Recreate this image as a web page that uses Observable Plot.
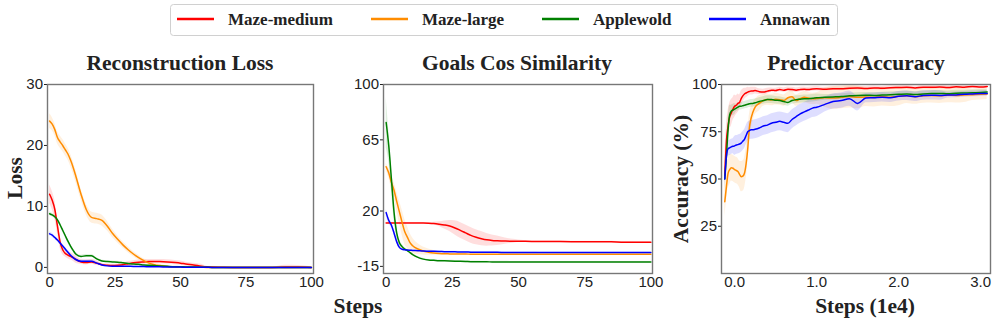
<!DOCTYPE html>
<html><head><meta charset="utf-8">
<script src="https://cdn.jsdelivr.net/npm/d3@7"></script>
<script src="https://cdn.jsdelivr.net/npm/@observablehq/plot@0.6"></script>
<style>
body{margin:0;background:#fff;}
#root{position:relative;width:996px;height:324px;overflow:hidden;background:#fff;}
.pl{position:absolute;top:74px;}
.pl svg{overflow:visible;}
#ov{position:absolute;left:0;top:0;pointer-events:none;}
</style></head><body><div id="root"></div>
<script>
const names = ["Maze-medium","Maze-large","Applewold","Annawan"];
const colors = ["#ff0000","#ff8c00","#008000","#0000ff"];

// Panel 1 & 2 x grid (steps)
const stepsX = [0,1,2,3,4,5,6,7,8,9,10,12,14,16,18,20,22,24,26,28,30,32,34,36,38,40,42,45,48,50,52,55,58,60,62,65,70,75,80,85,90,95,100];

// Reconstruction Loss
const reconMazeMedium = [12.0,11.0,9.5,6.8,4.2,2.9,2.3,2.0,1.8,1.6,1.3,0.9,0.8,0.9,0.7,0.45,0.35,0.3,0.35,0.45,0.6,0.75,0.85,0.9,0.95,0.95,0.95,0.9,0.8,0.7,0.55,0.4,0.2,0.1,0.05,0.02,0,0,0,0,0.05,0.05,0];
const reconMazeMediumSd = [1.5,1.5,1.5,1.2,1.0,0.8,0.6,0.6,0.6,0.6,0.6,0.4,0.4,0.4,0.4,0.2,0.2,0.2,0.2,0.2,0.35,0.35,0.35,0.35,0.35,0.35,0.35,0.35,0.35,0.35,0.3,0.3,0.3,0.1,0.05,0.05,0.05,0.05,0.05,0.05,0.3,0.25,0.1];
const reconMazeLarge = [24.0,23.5,22.6,21.3,20.6,20.0,19.3,18.6,17.6,16.4,15.0,12.0,9.5,8.2,8.0,7.7,6.8,5.6,4.6,3.7,2.9,2.2,1.6,1.1,0.7,0.45,0.3,0.15,0.08,0.05,0.03,0.02,0.01,0,0,0,0,0,0,0,0,0,0];
const reconMazeLargeSd = [1.2,1.1,1.0,1.0,1.0,1.0,1.0,1.0,1.0,1.0,1.0,0.9,0.9,0.9,0.9,0.9,0.8,0.7,0.6,0.5,0.5,0.4,0.4,0.3,0.3,0.2,0.2,0.1,0.1,0.1,0.1,0.05,0.05,0.05,0.05,0.05,0.05,0.05,0.05,0.05,0.05,0.05,0.05];
const reconApplewold = [8.8,8.6,8.3,7.8,7.0,6.1,5.2,4.3,3.5,2.8,2.2,1.8,1.9,1.9,1.4,1.05,0.95,0.9,0.85,0.75,0.65,0.55,0.5,0.4,0.35,0.3,0.25,0.18,0.12,0.1,0.08,0.05,0.03,0.02,0,0,0,0,0,0,0,0,0];
const reconApplewoldSd = [0.3,0.3,0.3,0.3,0.3,0.3,0.3,0.3,0.3,0.3,0.3,0.2,0.2,0.2,0.2,0.15,0.15,0.15,0.15,0.15,0.1,0.1,0.1,0.1,0.1,0.1,0.1,0.05,0.05,0.05,0.05,0.05,0.05,0.05,0.05,0.05,0.05,0.05,0.05,0.05,0.05,0.05,0.05];
const reconAnnawan = [5.5,5.3,4.9,4.5,4.0,3.5,3.0,2.5,2.0,1.6,1.3,1.0,1.0,1.0,0.7,0.4,0.25,0.2,0.2,0.2,0.18,0.16,0.15,0.13,0.12,0.1,0.09,0.07,0.06,0.05,0.04,0.03,0.02,0.01,0,0,0,0,0,0,0,0,0];
const reconAnnawanSd = [0.3,0.3,0.3,0.3,0.3,0.3,0.3,0.3,0.3,0.3,0.3,0.2,0.2,0.2,0.2,0.15,0.15,0.15,0.15,0.15,0.1,0.1,0.1,0.1,0.1,0.1,0.1,0.05,0.05,0.05,0.05,0.05,0.05,0.05,0.05,0.05,0.05,0.05,0.05,0.05,0.05,0.05,0.05];

// Goals Cos Similarity
const cosMazeMedium = [12.4,12.4,12.4,12.4,12.4,12.4,12.4,12.4,12.4,12.4,12.4,12.4,12.4,12.3,12.1,11.7,11.2,10.5,9.3,7.8,6.2,4.6,3.4,2.5,1.8,1.4,1.2,1.0,0.9,0.9,0.85,0.8,0.8,0.75,0.7,0.7,0.65,0.6,0.6,0.5,0.2,0.2,0.3];
const cosMazeMediumSd = [0.3,0.3,0.3,0.3,0.3,0.3,0.3,0.3,0.3,0.3,0.3,0.3,0.3,0.4,0.8,1.5,2.5,3.5,4.5,5,5,5,4.8,4.5,4,3.5,3,2,1.2,0.8,0.5,0.3,0.3,0.3,0.3,0.3,0.3,0.3,0.3,0.4,0.5,0.4,0.3];
const cosMazeLarge = [48,44,38,33,26,19.5,13,7,3.5,0,-2,-4,-5.3,-6,-6.5,-6.8,-7,-7.1,-7.2,-7.2,-7.2,-7.3,-7.3,-7.3,-7.3,-7.3,-7.3,-7.3,-7.3,-7.4,-7.4,-7.4,-7.4,-7.4,-7.4,-7.4,-7.4,-7.4,-7.4,-7.4,-7.4,-7.4,-7.4];
const cosMazeLargeSd = [2,3,4,5,6,7,8,8,7,6,5,3.5,2.5,2,1.5,1,0.6,0.5,0.4,0.3,0.3,0.3,0.3,0.3,0.3,0.3,0.3,0.3,0.3,0.3,0.3,0.3,0.3,0.3,0.3,0.3,0.3,0.3,0.3,0.3,0.3,0.3,0.3];
const cosApplewold = [76,61,40,19,6,0,-2.5,-4,-5,-6.3,-7.5,-9.3,-10.4,-11,-11.2,-11.4,-11.5,-11.6,-11.7,-11.8,-11.9,-12,-12,-12.1,-12.1,-12.2,-12.2,-12.2,-12.3,-12.3,-12.3,-12.3,-12.3,-12.3,-12.3,-12.3,-12.3,-12.3,-12.3,-12.3,-12.3,-12.3,-12.3];
const cosApplewoldSd = [16,10,7,5,3,2,1.5,1,0.8,0.6,0.5,0.5,0.5,0.4,0.4,0.4,0.4,0.4,0.4,0.4,0.4,0.4,0.4,0.4,0.4,0.4,0.4,0.4,0.4,0.4,0.4,0.4,0.4,0.4,0.4,0.4,0.4,0.4,0.4,0.4,0.4,0.4,0.4];
const cosAnnawan = [19,14,11,6,0.5,-3,-4.2,-4.5,-4.7,-4.8,-4.9,-5.1,-5.3,-5.4,-5.5,-5.6,-5.7,-5.8,-5.8,-5.9,-5.9,-6,-6,-6,-6.1,-6.1,-6.1,-6.2,-6.2,-6.2,-6.2,-6.2,-6.3,-6.3,-6.3,-6.3,-6.3,-6.3,-6.3,-6.3,-6.3,-6.3,-6.3];
const cosAnnawanSd = [2,2,1.5,1,0.6,0.4,0.3,0.3,0.3,0.3,0.3,0.3,0.3,0.3,0.3,0.3,0.3,0.3,0.3,0.3,0.3,0.3,0.3,0.3,0.3,0.3,0.3,0.3,0.3,0.3,0.3,0.3,0.3,0.3,0.3,0.3,0.3,0.3,0.3,0.3,0.3,0.3,0.3];

// Predictor Accuracy (steps in 1e4)
const accX = [-0.12,-0.1,-0.08,-0.06,-0.04,-0.02,0,0.02,0.04,0.06,0.08,0.1,0.12,0.14,0.16,0.18,0.2,0.22,0.25,0.3,0.35,0.4,0.45,0.5,0.55,0.6,0.65,0.7,0.75,0.8,0.85,0.9,0.95,1.0,1.1,1.2,1.3,1.4,1.5,1.6,1.7,1.8,1.9,2.0,2.1,2.2,2.3,2.4,2.5,2.6,2.7,2.8,2.9,3.0,3.08];
const accMazeMedium = [52,70,78,83,85,87,88.5,89,90,90.5,92.5,94,95,95.5,96,96.3,96.5,96.5,96.8,96.2,96,96.5,97,96.8,97.3,97,97.5,97.3,97,97.4,97.5,97.3,97.6,97.7,97.5,97.8,97.7,98,98.1,97.9,98.2,98,98.3,98.4,98.5,98.2,98.6,98.5,98.7,98.4,98.8,98.6,98.9,98.7,99];
const accMazeMediumSd = [8,8,8,7,7,6,6,5,5,4,4,3.5,3,2.5,2.5,2,2,2,1.8,1.5,1.5,1.5,1.2,1.2,1.2,1.2,1.2,1.2,1.2,1.2,1.2,1.2,1.2,1.2,1,1,1,1,1,1,1,1,1,1,1,1,1,1,1,1,1,1,1,1,1];
const accMazeLarge = [38,46,53,55,56,55.7,55,54.5,54,52.5,51.2,51.5,53,58,66,77,82,85,88,90,91.5,92,91.8,92.2,92,91.5,93,93.5,91.5,92.5,93.3,92.8,92.4,92.6,93,92.8,93.2,93.6,93.2,93.4,93.1,93.6,93.3,93.8,94,93.5,94.1,94.2,94,94.3,94.2,94.5,94.6,94.8,95];
const accMazeLargeSd = [8,8,8,8,7,7,7,7,7,7,8,8,8,8,8,7,6,5,4,4,3,3,3,3,3,3,3,3,3,3,3,3,3,3,5,6,6,6,6,5,5,5,5,5,4,4,4,4,4,4,4,4,3,3,3];
const accApplewold = [50,62,76,84,86,86.5,87,87.5,88,88.5,88.5,88.8,89,89.3,89.5,89.8,90,90,90.3,91,91.5,92,92,91.7,91.5,91,90.5,91.5,92,92.2,92.4,92.5,92.7,93,93.2,93.4,93.6,94,94.2,94.3,94.2,94.4,94.6,94.8,95,94.7,95,95.2,95.3,95.1,95.4,95.5,95.6,95.8,96];
const accApplewoldSd = [5,5,5,5,3,3,3,2,2,2,2,2,2,2,2,2,2,2,2,2,2,2,2,2,2,2,2,2,2,2,2,2,2,2,1.5,1.5,1.5,1.5,1.5,1.5,1.5,1.5,1.5,1.5,1.5,1.5,1.5,1.5,1.5,1.5,1.5,1.5,1.5,1.5,1.5];
const accAnnawan = [50,62,66,66.5,67,67.3,67.5,68,68.2,68.5,69,70,71,73,75,75.6,76,76,76.3,77,78,78.5,79.5,80,80.5,80,79.5,81.5,83,84.5,85.5,86.5,87.5,88,89.5,91,91.5,92.5,90,92.8,93,93.3,93,93.8,94,93.5,94.2,94.3,94.2,94.4,94.5,94.8,95,95.2,95.3];
const accAnnawanSd = [4,4,4,4,4,4,5,5,5,5,5,5,5,5,5,5,5,5,5,5,5,5,5,5,5,5,5,5,5,5,5,5,5,5,4,4,4,4,4,2.5,2.5,2.5,2.5,2.5,2.5,2.5,2.5,2.5,2.5,1.5,1.5,1.5,1.5,1.5,1.5];

// Tick labels
const reconYTicks = [0,10,20,30];
const cosYTicks = [-15,20,65,100];
const accYTicks = [25,50,75,100];
const stepTicks = [0,25,50,75,100];
const accXTicks = [0,1,2,3];

function rows(xs, ys, sds) {
  const out = [];
  ys.forEach((y, k) => xs.forEach((x, i) => out.push({x, y: y[i], lo: y[i] - sds[k][i], hi: y[i] + sds[k][i], name: names[k]})));
  return out;
}

function panel(o) {
  const data = rows(o.xs, o.ys, o.sds);
  return Plot.plot({
    width: o.width, height: 220,
    marginLeft: o.ml, marginRight: o.mr, marginTop: 10, marginBottom: 21,
    style: {fontFamily: "'Liberation Sans', Arial, sans-serif", fontSize: "15px", color: "#222", background: "transparent", overflow: "visible"},
    x: {domain: o.xDomain, ticks: o.xTicks, tickFormat: o.xFormat, tickSize: 0, tickPadding: 3, label: null},
    y: {domain: o.yDomain, ticks: o.yTicks, tickFormat: d => String(d), tickSize: 3, tickPadding: 1.5, label: null},
    color: {domain: names, range: colors},
    marks: [
      Plot.areaY(data, {x: "x", y1: "lo", y2: "hi", fill: "name", z: "name", fillOpacity: 0.13, curve: "monotone-x", clip: true}),
      Plot.lineY(data, {x: "x", y: "y", stroke: "name", z: "name", strokeWidth: 1.5, curve: "monotone-x", clip: true}),
      Plot.frame({stroke: "#777", strokeWidth: 1.4})
    ]
  });
}

const root = document.getElementById("root");
function place(el, left) {
  const d = document.createElement("div");
  d.className = "pl";
  d.style.left = left + "px";
  d.appendChild(el);
  root.appendChild(d);
}

place(panel({xs: stepsX, ys: [reconMazeMedium, reconMazeLarge, reconApplewold, reconAnnawan],
  sds: [reconMazeMediumSd, reconMazeLargeSd, reconApplewoldSd, reconAnnawanSd],
  width: 330, ml: 47, mr: 17, xDomain: [-0.8, 100.8], xTicks: stepTicks, xFormat: d => String(d),
  yDomain: [-1, 30], yTicks: reconYTicks}), 0);

place(panel({xs: stepsX, ys: [cosMazeMedium, cosMazeLarge, cosApplewold, cosAnnawan],
  sds: [cosMazeMediumSd, cosMazeLargeSd, cosApplewoldSd, cosAnnawanSd],
  width: 330, ml: 53, mr: 8, xDomain: [-1.0, 100.6], xTicks: stepTicks, xFormat: d => String(d),
  yDomain: [-19.5, 100], yTicks: cosYTicks}), 330);

place(panel({xs: accX, ys: [accMazeMedium, accMazeLarge, accApplewold, accAnnawan],
  sds: [accMazeMediumSd, accMazeLargeSd, accApplewoldSd, accAnnawanSd],
  width: 336, ml: 61, mr: 6, xDomain: [-0.16, 3.12], xTicks: accXTicks, xFormat: d => d.toFixed(1),
  yDomain: [0, 100], yTicks: accYTicks}), 660);

// Overlay text: titles, axis labels, legend
const NS = "http://www.w3.org/2000/svg";
const ov = document.createElementNS(NS, "svg");
ov.setAttribute("id", "ov");
ov.setAttribute("width", 996);
ov.setAttribute("height", 324);
root.appendChild(ov);
function txt(s, x, y, size, opts = {}) {
  const t = document.createElementNS(NS, "text");
  t.textContent = s;
  t.setAttribute("x", x); t.setAttribute("y", y);
  t.setAttribute("font-family", "'Liberation Serif', 'Times New Roman', serif");
  t.setAttribute("font-weight", "bold");
  t.setAttribute("font-size", size);
  t.setAttribute("fill", "#222");
  t.setAttribute("text-anchor", opts.anchor || "middle");
  if (opts.rotate) t.setAttribute("transform", `rotate(-90 ${x} ${y})`);
  ov.appendChild(t);
}
const titles = ["Reconstruction Loss", "Goals Cos Similarity", "Predictor Accuracy"];
txt(titles[0], 180, 70, 21.5);
txt(titles[1], 517, 70, 21.5);
txt(titles[2], 856, 70, 21.5);
txt("Loss", 21.5, 178, 21.5, {rotate: true});
txt("Accuracy (%)", 688, 179, 21.5, {rotate: true});
txt("Steps", 358, 313, 21.5);
txt("Steps (1e4)", 865, 313, 21.5);

// legend
const box = document.createElementNS(NS, "rect");
box.setAttribute("x", 170.5); box.setAttribute("y", 4.5);
box.setAttribute("width", 667); box.setAttribute("height", 31);
box.setAttribute("rx", 3); box.setAttribute("fill", "white");
box.setAttribute("stroke", "#d0d0d0"); box.setAttribute("stroke-width", 1);
ov.appendChild(box);
const legendX = [177, 371, 542, 709];
names.forEach((n, i) => {
  const l = document.createElementNS(NS, "line");
  l.setAttribute("x1", legendX[i]); l.setAttribute("x2", legendX[i] + 37);
  l.setAttribute("y1", 19); l.setAttribute("y2", 19);
  l.setAttribute("stroke", colors[i]); l.setAttribute("stroke-width", 2.5);
  ov.appendChild(l);
  txt(n, legendX[i] + 51, 25, 17, {anchor: "start"});
});
</script></body></html>
